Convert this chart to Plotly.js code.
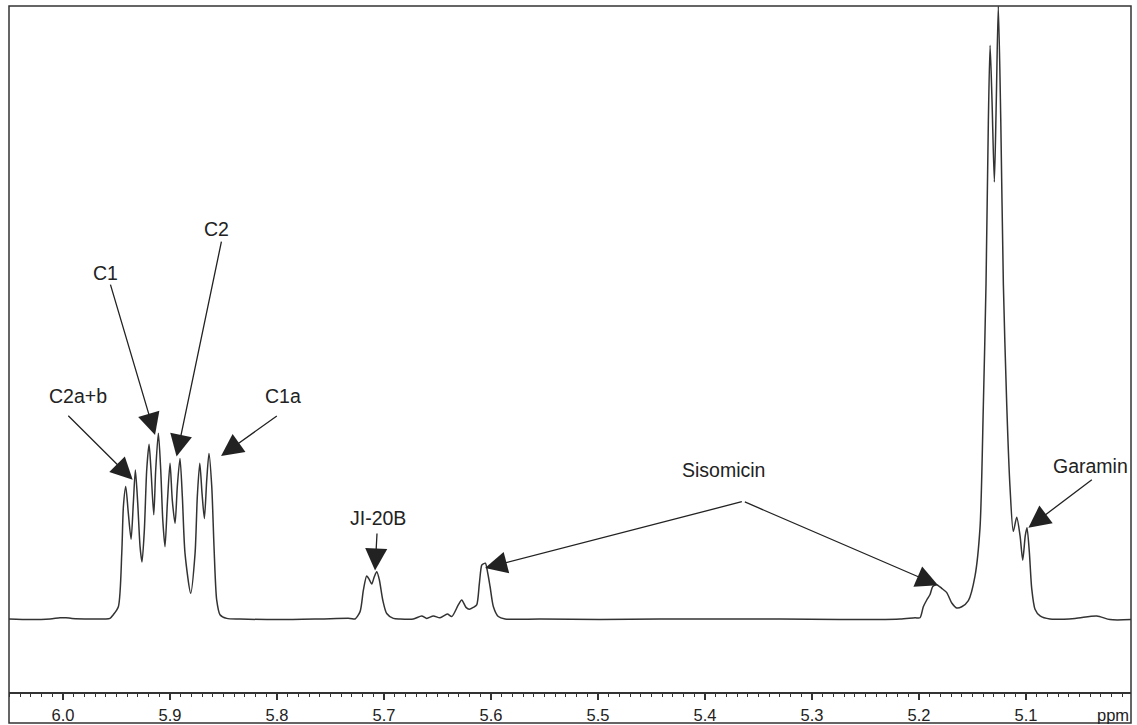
<!DOCTYPE html>
<html>
<head>
<meta charset="utf-8">
<script src="https://cdn.plot.ly/plotly-3.0.1.min.js"></script>
<style>
  html, body { margin: 0; padding: 0; background: #fff; }
  #plot { width: 1137px; height: 725px; }
</style>
</head>
<body>
<div id="plot"></div>
<script>
// 1H NMR spectrum, anomeric region (chemical shift in ppm, relative intensity)
const ppm = [
  6.0505, 6.0308, 6.0121, 6.0028, 5.9972, 5.9916, 5.9748, 5.9607, 5.9561, 5.9530,
  5.9483, 5.9451, 5.9436, 5.9414, 5.9390, 5.9364, 5.9343, 5.9324, 5.9302, 5.9280,
  5.9262, 5.9240, 5.9218, 5.9196, 5.9178, 5.9152, 5.9134, 5.9109, 5.9087, 5.9068,
  5.9047, 5.9025, 5.9000, 5.8979, 5.8953, 5.8932, 5.8907, 5.8885, 5.8860, 5.8807,
  5.8766, 5.8745, 5.8722, 5.8701, 5.8679, 5.8657, 5.8636, 5.8610, 5.8589, 5.8564,
  5.8533, 5.8470, 5.8346, 5.7972, 5.7598, 5.7318, 5.7271, 5.7224, 5.7193, 5.7162,
  5.7137, 5.7115, 5.7091, 5.7068, 5.7044, 5.7012, 5.6975, 5.6913, 5.6850, 5.6726,
  5.6648, 5.6601, 5.6539, 5.6477, 5.6408, 5.6367, 5.6306, 5.6274, 5.6234, 5.6203,
  5.6165, 5.6134, 5.6109, 5.6087, 5.6072, 5.6053, 5.6031, 5.6009, 5.5978, 5.5932,
  5.5869, 5.5542, 5.4981, 5.4421, 5.3860, 5.3299, 5.2738, 5.2178, 5.2037, 5.1991,
  5.1960, 5.1928, 5.1897, 5.1872, 5.1835, 5.1788, 5.1741, 5.1694, 5.1648, 5.1601,
  5.1539, 5.1477, 5.1430, 5.1399, 5.1374, 5.1352, 5.1336, 5.1318, 5.1296, 5.1278,
  5.1259, 5.1236, 5.1212, 5.1180, 5.1150, 5.1119, 5.1087, 5.1056, 5.1031, 5.1007,
  5.0991, 5.0969, 5.0947, 5.0916, 5.0869, 5.0776, 5.0542, 5.0339, 5.0215, 5.0019
];
const intensity = [
  0, -0.1, 0, 0.2, 0.2, 0.1, 0, 0, 0.1, 0.7,
  2.0, 10.8, 18.3, 21.6, 17.3, 13.0, 18.9, 24.3, 18.9, 11.8,
  9.3, 14.5, 24.3, 28.5, 24.3, 17.0, 24.3, 30.3, 24.3, 16.2,
  11.8, 18.9, 25.4, 19.4, 15.6, 21.6, 26.2, 20.0, 10.7, 4.2,
  10.7, 20.0, 25.4, 20.5, 16.4, 22.7, 27.0, 21.6, 11.8, 3.1,
  0.7, 0.1, 0, -0.1, 0, 0.1, 0, 1.2, 4.7, 7.0,
  6.4, 5.7, 6.9, 7.7, 6.4, 3.1, 0.9, 0.1, 0, 0,
  0.5, 0.1, 0.5, 0.2, 0.8, 0.4, 2.3, 3.1, 1.9, 1.6,
  1.9, 2.3, 5.8, 8.8, 9.0, 9.1, 7.5, 5.3, 2.0, 0.4,
  0, 0, -0.1, 0, 0, 0, -0.1, 0, 0.2, 0.2,
  2.0, 3.1, 4.0, 5.3, 5.6, 5.0, 4.3, 2.6, 1.8, 2.0,
  3.0, 7.0, 14.9, 34.8, 54.7, 81.3, 93.6, 84.6, 71.3, 84.6,
  100, 81.3, 54.7, 34.8, 21.6, 14.3, 16.6, 13.6, 9.6, 13.6,
  14.9, 10.9, 5.0, 1.6, 0.5, 0, 0.1, 0.5, -0.1, -0.1
];

// Axis ticks
const tickValues = [6.0, 5.9, 5.8, 5.7, 5.6, 5.5, 5.4, 5.3, 5.2, 5.1];
const tickLabels = ['6.0', '5.9', '5.8', '5.7', '5.6', '5.5', '5.4', '5.3', '5.2', '5.1'];

// Compound labels: text placement (ppm, intensity)
const labelNames = ['C2a+b', 'C1', 'C2', 'C1a', 'JI-20B', 'Sisomicin', 'Garamin'];
const labelPpm   = [5.9857, 5.9607, 5.8570, 5.7941, 5.7056, 5.3829, 5.0400];
const labelInt   = [36.4, 56.5, 63.6, 36.4, 16.5, 24.3, 24.9];

// Pointer arrows: tail -> tip (ppm, intensity)
const arrowTailPpm = [5.9965, 5.9561, 5.8517, 5.7988, 5.7065, 5.3642, 5.3642, 5.0371];
const arrowTailInt = [33.4, 54.8, 61.8, 33.3, 14.2, 19.2, 19.2, 22.9];
const arrowTipPpm  = [5.9349, 5.9140, 5.8939, 5.8523, 5.7084, 5.6056, 5.1822, 5.0978];
const arrowTipInt  = [22.7, 30.0, 26.5, 26.6, 7.9, 8.3, 5.5, 14.9];

const FONT = 'Liberation Sans, Arial, Helvetica, sans-serif';
const INK = '#222';

const spectrum = {
  type: 'scatter',
  mode: 'lines',
  x: ppm,
  y: intensity,
  line: { color: '#333', width: 1.5, shape: 'spline', smoothing: 0.7 },
  hoverinfo: 'x+y'
};

const annotations = [];
labelNames.forEach((name, i) => {
  annotations.push({
    x: labelPpm[i], y: labelInt[i], xref: 'x', yref: 'y',
    text: name, showarrow: false,
    xanchor: 'center', yanchor: 'middle',
    font: { family: FONT, size: 19.5, color: INK }
  });
});
arrowTipPpm.forEach((p, i) => {
  annotations.push({
    x: p, y: arrowTipInt[i], xref: 'x', yref: 'y',
    ax: arrowTailPpm[i], ay: arrowTailInt[i], axref: 'x', ayref: 'y',
    text: '', showarrow: true,
    arrowhead: 2, arrowsize: 3.4, arrowwidth: 1.3, arrowcolor: INK
  });
});
// unit label at the right end of the scale
annotations.push({
  x: 0.984, y: -0.034, xref: 'paper', yref: 'paper',
  text: 'ppm', showarrow: false, xanchor: 'center', yanchor: 'middle',
  font: { family: FONT, size: 16.5, color: INK }
});

const layout = {
  width: 1137, height: 725,
  margin: { l: 9, r: 6, t: 6, b: 33, pad: 0 },
  paper_bgcolor: '#fff', plot_bgcolor: '#fff',
  showlegend: false,
  xaxis: {
    range: [6.0505, 5.0019],
    showgrid: false, zeroline: false,
    showline: true, linecolor: '#333', linewidth: 1.5,
    ticks: 'outside', ticklen: 6, tickwidth: 1.2, tickcolor: '#333',
    tickmode: 'array', tickvals: tickValues, ticktext: tickLabels,
    ticklabelstandoff: 2,
    tickfont: { family: FONT, size: 16.5, color: INK },
    minor: { dtick: 0.01, tick0: 6.0, ticks: 'outside', ticklen: 3, tickwidth: 1, tickcolor: '#333', showgrid: false },
    fixedrange: true
  },
  yaxis: {
    range: [-11.91, 100],
    showgrid: false, zeroline: false, showline: false,
    ticks: '', showticklabels: false, fixedrange: true
  },
  shapes: [{
    type: 'rect', xref: 'paper', yref: 'paper',
    x0: 0, x1: 1, y0: -0.0452, y1: 1,
    line: { color: '#333', width: 1.5 }, fillcolor: 'rgba(0,0,0,0)'
  }],
  annotations: annotations
};

Plotly.newPlot('plot', [spectrum], layout, { staticPlot: true, displayModeBar: false });
</script>
</body>
</html>
